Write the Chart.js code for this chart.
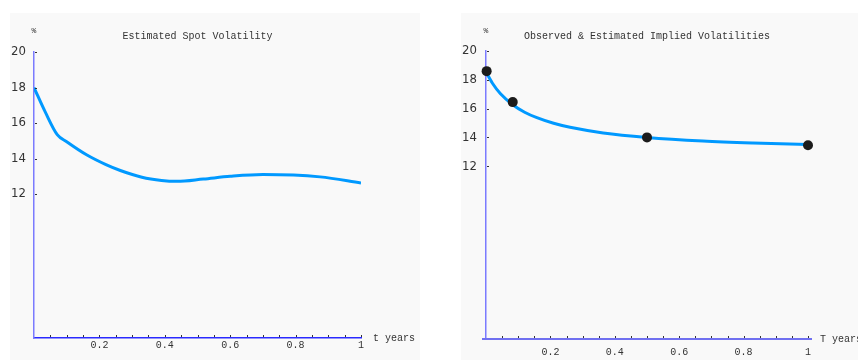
<!DOCTYPE html>
<html>
<head>
<meta charset="utf-8">
<script src="https://cdn.jsdelivr.net/npm/chart.js@4/dist/chart.umd.min.js"></script>
<style>
  body { margin: 0; background: #ffffff; width: 858px; height: 362px; overflow: hidden; position: relative; }
  .panel { position: absolute; background: #f9f9f9; }
  #spotBox { left: 10px; top: 13px; width: 410px; height: 347px; }
  #implBox { left: 461px; top: 13px; width: 397px; height: 347px; }
</style>
</head>
<body>
<div class="panel" id="spotBox"><canvas id="spotChart" width="410" height="347"></canvas></div>
<div class="panel" id="implBox"><canvas id="implChart" width="397" height="347"></canvas></div>
<script>
// estimated spot volatility (left)
const spotT   = [0, 0.035, 0.071, 0.1, 0.162, 0.22, 0.264, 0.33, 0.39, 0.437, 0.518, 0.6, 0.70, 0.875, 1];
const spotVol = [18, 16.6, 15.35, 14.95, 14.2, 13.66, 13.33, 12.95, 12.77, 12.72, 12.85, 13.0, 13.1, 12.97, 12.63];

// implied vols (right): fitted curve + observed points
const implT     = [0, 0.02, 0.045, 0.083, 0.12, 0.158, 0.21, 0.261, 0.364, 0.5, 0.674, 0.829, 1];
const implCurve = [18.55, 17.76, 17.03, 16.27, 15.75, 15.37, 14.98, 14.7, 14.31, 14.0, 13.75, 13.61, 13.5];
const obsT   = [0.002, 0.083, 0.5, 1];
const obsVol = [18.6, 16.45, 14.0, 13.45];

const xTickLabels = [0.2, 0.4, 0.6, 0.8, 1];
const xMinorTicks = [0.05, 0.1, 0.15, 0.2, 0.25, 0.3, 0.35, 0.4, 0.45, 0.5, 0.55, 0.6, 0.65, 0.7, 0.75, 0.8, 0.85, 0.9, 0.95, 1];
const yTickLabels = [12, 14, 16, 18, 20];

const MONO = "'Liberation Mono', 'DejaVu Sans Mono', monospace";
const NARROW = "'Liberation Sans Narrow', 'DejaVu Sans Condensed', sans-serif";

function pts(xs, ys) {
  return xs.map((x, i) => ({ x: x, y: ys[i] }));
}

// draws title, unit labels, the little tick marks and (optionally) a longer x axis line
function decorPlugin(cfg) {
  return {
    id: 'decor',
    beforeDatasetsDraw(chart) {
      if (!cfg.xAxisExtend) return;
      const ctx = chart.ctx;
      const area = chart.chartArea;
      ctx.save();
      ctx.strokeStyle = cfg.xAxisColor;
      ctx.lineWidth = cfg.xAxisWidth;
      ctx.beginPath();
      ctx.moveTo(area.left - cfg.xAxisExtend[0], area.bottom);
      ctx.lineTo(area.right + cfg.xAxisExtend[1], area.bottom);
      ctx.stroke();
      ctx.restore();
    },
    afterDraw(chart) {
      const ctx = chart.ctx;
      const area = chart.chartArea;
      const xs = chart.scales.x, ys = chart.scales.y;
      ctx.save();
      // tick marks
      ctx.strokeStyle = '#333';
      ctx.lineWidth = 1;
      xMinorTicks.forEach(v => {
        const px = Math.round(xs.getPixelForValue(v)) + 0.5;
        ctx.beginPath();
        ctx.moveTo(px, area.bottom - 1);
        ctx.lineTo(px, area.bottom - 3);
        ctx.stroke();
      });
      yTickLabels.forEach(v => {
        const py = Math.round(ys.getPixelForValue(v)) + 0.5;
        ctx.beginPath();
        ctx.moveTo(area.left + 1, py);
        ctx.lineTo(area.left + 3, py);
        ctx.stroke();
      });
      // texts
      ctx.fillStyle = '#333';
      ctx.font = '10px ' + MONO;
      ctx.textAlign = 'center';
      ctx.textBaseline = 'middle';
      ctx.fillText(cfg.title, (area.left + area.right) / 2, 23.5);
      ctx.font = '8px ' + MONO;
      ctx.fillText('%', area.left, 17.5);
      ctx.font = '10px ' + MONO;
      ctx.textAlign = 'left';
      ctx.fillText(cfg.xName, area.right + 12, area.bottom);
      ctx.restore();
    }
  };
}

function makeChart(id, cfg) {
  return new Chart(document.getElementById(id), {
    type: 'line',
    data: { datasets: cfg.datasets },
    options: {
      responsive: false,
      animation: false,
      events: [],
      layout: { padding: { top: cfg.top, right: cfg.right, left: 0, bottom: 0 } },
      plugins: { legend: { display: false }, tooltip: { enabled: false } },
      scales: {
        x: {
          type: 'linear',
          min: 0, max: 1,
          afterBuildTicks: (s) => { s.ticks = xTickLabels.map(v => ({ value: v })); },
          afterFit: (s) => { s.height = cfg.xHeight; },
          grid: { display: false, drawTicks: false },
          border: { display: !cfg.xAxisExtend, color: cfg.xAxisColor, width: cfg.xAxisWidth },
          ticks: {
            padding: cfg.xPad,
            color: '#333',
            font: { family: MONO, size: 10 },
            maxRotation: 0,
            callback: (v) => String(v)
          }
        },
        y: {
          type: 'linear',
          min: cfg.yMin, max: 20,
          afterBuildTicks: (s) => { s.ticks = yTickLabels.map(v => ({ value: v })); },
          afterFit: (s) => { s.width = cfg.yWidth; },
          grid: { display: false, drawTicks: false },
          border: { display: true, color: '#7b7bff', width: 1.5 },
          ticks: {
            padding: cfg.yPad,
            color: '#333',
            font: { family: NARROW, size: 13 },
            callback: (v) => String(v)
          }
        }
      }
    },
    plugins: [decorPlugin(cfg)]
  });
}

makeChart('spotChart', {
  title: 'Estimated Spot Volatility',
  xName: 't years',
  top: 39, right: 59, xHeight: 22, yWidth: 24,
  yMin: 3.9, xPad: 1, yPad: 8,
  xAxisColor: '#2a2aff', xAxisWidth: 1.5,
  datasets: [{
    data: pts(spotT, spotVol),
    borderColor: '#0099ff',
    borderWidth: 3,
    pointRadius: 0,
    cubicInterpolationMode: 'monotone'
  }]
});

makeChart('implChart', {
  title: 'Observed & Estimated Implied Volatilities',
  xName: 'T years',
  top: 38, right: 50, xHeight: 21, yWidth: 25,
  yMin: 0, xPad: 7, yPad: 9,
  xAxisColor: '#7070f0', xAxisWidth: 2, xAxisExtend: [4, 4],
  datasets: [{
    data: pts(obsT, obsVol),
    showLine: false,
    clip: false,
    pointRadius: 5,
    pointBackgroundColor: '#1c1c1c',
    pointBorderColor: '#1c1c1c',
    pointBorderWidth: 0
  }, {
    data: pts(implT, implCurve),
    borderColor: '#0099ff',
    borderWidth: 3,
    pointRadius: 0,
    clip: false,
    cubicInterpolationMode: 'monotone'
  }]
});
</script>
</body>
</html>
